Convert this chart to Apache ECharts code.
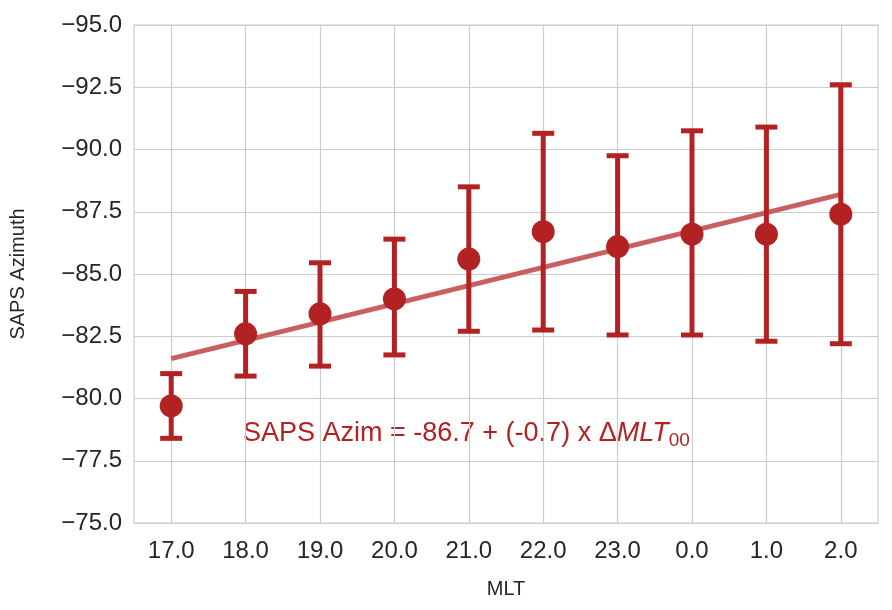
<!DOCTYPE html>
<html>
<head>
<meta charset="utf-8">
<script src="https://cdn.jsdelivr.net/npm/echarts@6/dist/echarts.min.js"></script>
<style>html,body{margin:0;padding:0;background:#fff;} #chart{width:892px;height:610px;}</style>
</head>
<body>
<div id="chart"></div>
<script>
// MLT bins and mean SAPS azimuth with error bar ends
var mltLabels = ['17.0','18.0','19.0','20.0','21.0','22.0','23.0','0.0','1.0','2.0'];
var meanAzim = [-79.7, -82.6, -83.4, -84.0, -85.6, -86.7, -86.1, -86.6, -86.6, -87.4];
var errLow   = [-78.4, -80.9, -81.3, -81.75, -82.7, -82.75, -82.55, -82.55, -82.3, -82.2];
var errHigh  = [-81.0, -84.3, -85.45, -86.4, -88.5, -90.65, -89.75, -90.75, -90.9, -92.6];
var fitLine  = [-81.6, null, null, null, null, null, null, null, null, -88.2];

var RED = '#b22222';

function fmt(v){ return (v < 0 ? '\u2212' : '') + Math.abs(v).toFixed(1); }

var errData = [];
var vGrid = [];
for (var i = 0; i < mltLabels.length; i++) {
	errData.push([i, errLow[i], errHigh[i]]);
	vGrid.push({ xAxis: mltLabels[i] });
}

var option = {
	backgroundColor: '#fff',
	animation: false,
	textStyle: { fontFamily: 'Liberation Sans, Arial, sans-serif' },
	grid: { left: 130, right: 14, top: 25, bottom: 87, show: true, borderColor: '#cccccc', borderWidth: 1.2 },
	xAxis: {
		type: 'category',
		data: mltLabels,
		boundaryGap: true,
		name: 'MLT', nameLocation: 'middle', nameGap: 56,
		nameTextStyle: { fontSize: 20, color: '#262626' },
		axisLine: { show: false }, axisTick: { show: false },
		axisLabel: { fontSize: 24, color: '#262626', margin: 16, interval: 0 },
		splitLine: { show: false }
	},
	yAxis: {
		type: 'value', inverse: true, min: -95, max: -75, interval: 2.5,
		name: 'SAPS Azimuth', nameLocation: 'middle', nameGap: 106,
		nameTextStyle: { fontSize: 20, color: '#262626' },
		axisLine: { show: false }, axisTick: { show: false },
		axisLabel: { fontSize: 24, color: '#262626', margin: 12, formatter: fmt },
		splitLine: { lineStyle: { color: '#cccccc', width: 1.2 } }
	},
	graphic: [{
		type: 'text', left: 243, top: 420,
		style: {
			text: '{n|SAPS Azim = -86.7 + (-0.7) x \u0394}{i|MLT}{s|00}',
			rich: {
				n: { fontSize: 27, fill: RED, fontFamily: 'Liberation Sans' },
				i: { fontSize: 27, fill: RED, fontStyle: 'italic', fontFamily: 'Liberation Sans' },
				s: { fontSize: 19, fill: RED, fontFamily: 'Liberation Sans', padding: [14, 0, 0, 0] }
			}
		}
	}],
	series: [{
		type: 'line', data: fitLine, connectNulls: true, symbol: 'none',
		lineStyle: { color: '#c86060', width: 5 }, z: 2,
		markLine: {
			silent: true, symbol: 'none', label: { show: false },
			lineStyle: { color: '#cccccc', width: 1.2, type: 'solid' },
			data: vGrid, z: 1
		}
	}, {
		type: 'custom', data: errData, z: 3,
		renderItem: function (params, api) {
			var x = api.value(0);
			var lo = api.coord([x, api.value(1)]);
			var hi = api.coord([x, api.value(2)]);
			var w = 11;
			var st = { stroke: RED, lineWidth: 5 };
			return { type: 'group', children: [
				{ type: 'line', shape: { x1: lo[0], y1: lo[1], x2: hi[0], y2: hi[1] }, style: st },
				{ type: 'line', shape: { x1: lo[0]-w, y1: lo[1], x2: lo[0]+w, y2: lo[1] }, style: st },
				{ type: 'line', shape: { x1: hi[0]-w, y1: hi[1], x2: hi[0]+w, y2: hi[1] }, style: st }
			]};
		}
	}, {
		type: 'scatter', data: meanAzim, symbolSize: 23, z: 4,
		itemStyle: { color: RED, opacity: 1 }
	}]
};
var myChart = echarts.init(document.getElementById('chart'));
myChart.setOption(option);
</script>
</body>
</html>
